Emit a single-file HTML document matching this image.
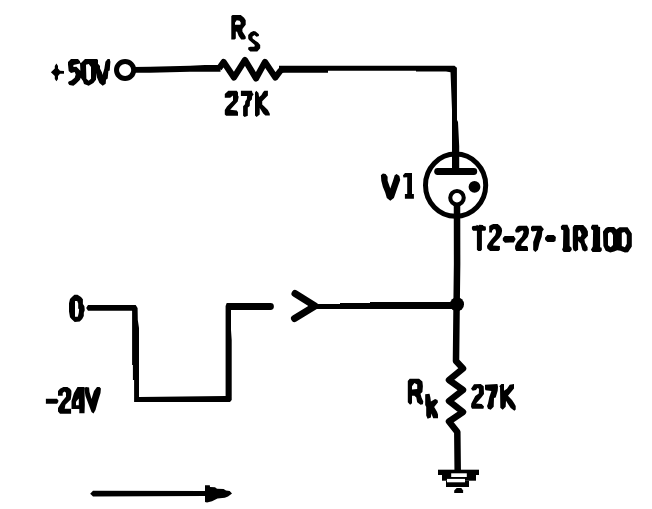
<!DOCTYPE html>
<html><head><meta charset="utf-8"><style>
html,body{margin:0;padding:0;background:#fff;width:652px;height:509px;overflow:hidden;font-family:"Liberation Sans",sans-serif;}
svg{position:absolute;left:0;top:0;display:block;}
</style></head><body>
<svg width="652" height="509" viewBox="0 0 652 509">
<rect width="652" height="509" fill="#fff"/>
<g fill="none" stroke="#000" stroke-linejoin="miter" stroke-linecap="butt">
  <!-- terminal -->
  <circle cx="125.1" cy="70" r="8.6" stroke-width="5"/>
  <!-- wire to Rs, Rs -->
  <path d="M133,66.9 L150,66.8 L190,65.85 L205,64.9 L220.5,64.9 L220.5,71.7 L190,71.7 L150,72.7 L133,72.7 Z" fill="#000" stroke="none"/>
  <path d="M219,68.5 L223.6,62 L234,77.4 L245,60 L256,78.4 L265,62 L275.4,77.4 L281,70" stroke-width="6.2" stroke-linejoin="round"/>
  <!-- top wire, down to plate -->
  <path d="M279,65.85 L454.5,65.85 L456.9,67.8 L457,120 L458,122 L459.2,146 L459.2,171 L452,171 L452,110 L450.5,72.2 L446,71.6 L416,71.6 L416,70.75 L328,70.75 L328,72.7 L285,72.7 L279,73 Z" fill="#000" stroke="none"/>
  <!-- plate bar -->
  <line x1="437.6" y1="171.5" x2="473.8" y2="171.5" stroke-width="6.8" stroke-linecap="round"/>
  <!-- tube envelope -->
  <ellipse cx="455.6" cy="185.15" rx="30.1" ry="31.1" stroke-width="5"/>
  <!-- cathode ring -->
  <circle cx="457" cy="197.7" r="6.75" stroke-width="4.1"/>
  <!-- cathode lead down to Rk -->
  <path d="M457,204.5 L457.1,264 L456.6,305 L456,361 L463,368.5 L449,380 L463,390 L449,401 L463,412 L449,421.5 L457.3,432 L457.7,470" stroke-width="6.5" stroke-linejoin="round"/>
  <!-- input wire -->
  <path d="M313,303.9 L340,303.9 L340,302.9 L370,302.9 L370,302 L457,302 L457,308.9 L313,308.9 Z" fill="#000" stroke="none"/>
  <!-- arrow > -->
  <path d="M295,293.5 L315,306 L294.5,318.5" stroke-width="7" stroke-linecap="round" stroke-linejoin="round"/>
</g>
<g fill="#000">
  <!-- waveform -->
  <path d="M86.2,308 L88,305.1 L135.7,305.1 L137.6,307.9 L137.8,320 L139,328 L139,397 L225.6,396 L225.6,306 L226.7,303.1 L270.5,303.1 A3.4,3.4 0 0 1 270.5,309.9 L231,309.9 L231,330 L231.7,340 L231.7,400 L230,401.9 L134.1,401.9 L134.1,380 L132.9,380 L132.9,365 L132.1,365 L132.1,310.8 L88,310.8 Z"/>
  <circle cx="474.5" cy="186.9" r="5.9"/>
  <circle cx="457" cy="304.3" r="7"/>
  <!-- bottom arrow -->
  <path d="M90.2,493.8 L93,490.7 L205,490.9 L205,496.1 L93,496.5 Z"/>
  <polygon points="205,485.2 209.8,485.2 210,487 215,487.2 217,488.8 223.6,489 226,490.5 229.7,490.9 232,493.6 228,496.4 224.8,497.8 217.5,498.6 212,501.3 207,502.5 205,502"/>
  <!-- ground -->
  <rect x="438" y="469.7" width="41" height="5.3"/>
  <rect x="442" y="475" width="34" height="5.7"/>
  <rect x="446" y="480.7" width="23" height="6.3"/>
  <rect x="451.2" y="473.3" width="15.6" height="3.7" fill="#fff"/>
  <rect x="447" y="478.9" width="18" height="3.4" fill="#fff"/>
  <polygon points="456.7,488 461.3,488 463.1,490.5 463.1,493 454.2,493 454.2,490.5"/>
</g>
<!-- lettering -->
<g fill="none" stroke="#000" stroke-linecap="round" stroke-linejoin="round">
  <!-- +50V -->
  <polygon points="56.4,63.5 58,66 58,68.6 60,70.8 64,70.9 64,73.8 60,73.8 58,76 58,79 56.4,81.3 54.8,79 54.8,76 50.9,72.2 54.8,68.4 54.8,66" fill="#000" stroke="none"/>
  <path fill="#000" stroke="none" fill-rule="evenodd" d="M68,62 L71,59 L78,59 L80,61.3 L80,62.3 L81,63 L85,59 L97,59 L98,60 L98,63.7 L100,66 L100,68.4 L102,72.4 L102.4,75 L103.7,71 L104.4,68.4 L105.4,61.7 L107.7,59 L109.7,59 L110.4,61.7 L109.7,70.4 L108.4,71 L107.7,78.4 L106,79.7 L105.7,83.7 L102.7,85.7 L99.4,83 L97,77.4 L96.4,73 L96,79.7 L93.4,83 L88.7,85.7 L84,84 L83,81 L80.7,77.7 L80,79.7 L76,83.7 L73.4,85.7 L69.3,85 L68,83 L68.7,81.4 L71.3,80.4 L74.7,77.7 L75.7,74.4 L74.7,72 L71,73 L68.7,71 L68,64.4 Z M73.4,65 L80,63.4 L80.4,70.7 L76.4,66.7 L73.4,67 Z M86,64.7 L88.7,64 L91,67 L91,78.7 L88.7,80.7 L86.4,78.7 Z"/>
  <!-- Rs -->
  <g fill="#000" stroke="none" fill-rule="evenodd">
  <path d="M231.3,16.1 L232.5,15.1 L240.8,15.1 L244.1,17.8 L245.7,20.3 L245.7,24.8 L243.7,27.3 L242.4,28.9 L242.4,31.4 L244.5,34.7 L245.7,36.8 L245.7,38.8 L244.1,39.6 L241.2,39.6 L238.7,35.9 L237.1,31.8 L235.8,31.4 L235.8,38.4 L234.6,39.6 L231.3,39.6 Z M235,22.7 L236.7,20.3 L239.6,20.7 L240.8,22.7 L240.4,24.8 L235,24.8 Z"/>
  <path d="M248.2,35.1 L250.7,32.2 L253.6,31 L255.6,31.4 L258.9,34.3 L258.9,35.9 L256.5,36.8 L254.4,35.1 L252.3,36.8 L252.8,38.8 L258.1,42.5 L260.2,45 L260.2,48.3 L257.3,51.6 L250.3,51.6 L248.2,49.5 L248.2,47.5 L250.3,46.7 L254.4,46.7 L254.8,45 L249,40 L248.2,38.4 Z"/>
  </g>
  <!-- 27K under Rs -->
  <g fill="#000" stroke="none">
  <polygon points="224.8,94 228.3,90.8 236.8,90.8 238,92.4 238,95.5 238.7,96.8 237.7,101.5 230.2,109.7 236.8,110.6 238,112.2 238,115.7 226.1,115.7 224.8,114.4 224.8,110 227,106.5 233,100.6 233,95.5 230.2,97.7 224.8,97.7"/>
  <polygon points="240.9,90.8 251.9,90.8 252.5,93 253.7,94.3 252.2,96.2 251.9,99.6 250,101.2 249.7,105.9 247.8,107.5 247.8,115.7 244.6,116.9 243.1,115.7 243.1,106.2 245,104.3 245.3,101.2 246.8,99.3 247.1,95.9 240.9,95.9"/>
  <polygon points="255,92.4 256.3,90.8 258.5,93 259.1,97.1 261.3,95.2 263.2,92.1 264.4,90.8 267.9,90.8 267.9,95.5 265.4,98 262.2,101.2 262.2,104.6 264.1,106.2 267.9,110 269.8,113.8 269.8,115.6 265.4,115.6 263.2,113.4 261,110 259.7,108.1 259.7,114.4 256.6,116.9 255,115.6"/>
  </g>
  <!-- V1 -->
  <g stroke-linecap="square" stroke-linejoin="miter">
  <polygon fill="#000" stroke="none" points="380.9,175.2 382.9,173.6 385.6,174 387.6,176.8 387.6,180.7 390.3,188.6 393,180.7 394.7,175.2 396.6,174 399.4,176 400.2,180 398.2,185.4 395.8,192.5 393.9,198 390.3,200.8 386.8,198 385.2,192.5 382.9,187 381.3,180.7"/>
  <polygon fill="#000" stroke="none" points="402.9,175.5 405,173 412,172.9 412,194 413.9,194 413.9,198.8 404.9,198.8 404.9,194 407.2,194 407.2,177.2 403.5,177.6"/>
  </g>
  <!-- T2-27-1R100 -->
  <path fill="#000" stroke="none" fill-rule="evenodd" d="M471.9,227 L472.8,226.1 L476.3,225.8 L476.9,224.8 L478.2,225.8 L479.4,224.8 L482.9,225.1 L483.5,226.1 L485.7,226.4 L486,229.5 L485.1,230.8 L481.9,230.8 L481.9,249.7 L480.7,250.9 L478.2,250.9 L476.9,249.7 L476.9,230.8 L473.1,230.8 L471.9,229.2 Z M489.2,226.1 L491.4,224.8 L493.3,223.9 L497.7,223.9 L499.9,225.8 L501.7,228.3 L502.1,230.8 L501.4,234.6 L499.5,237.7 L493.9,243.4 L492.9,245.6 L499.9,245.9 L499.9,249.7 L498.6,250.9 L490.1,250.9 L487.3,248.4 L487,245.9 L488.2,243.7 L491.4,239.6 L495.1,235.2 L496.1,232 L495.5,229.5 L493.9,228.9 L492,230.8 L492,232.4 L489.2,232.4 Z M502.8,238 L504.7,236.1 L513.8,236.1 L515.7,239 L513.8,242.4 L505,242.7 L502.8,240.5 Z M515.1,230.2 L517,226.7 L518.9,225.8 L527,225.8 L528.9,228.9 L528.9,233.3 L527.7,237.1 L521.4,244 L521.4,245.9 L527,245.9 L528,247.8 L528,250.9 L516.3,250.9 L515.1,249 L515.1,245.9 L517,242.1 L522,236.5 L523.6,232.1 L522.6,230.2 L520.1,231.4 L518.9,232.4 L515.7,232.4 Z M531,227 L532.3,225.8 L541.1,225.8 L543.9,229.2 L542.3,231.4 L541.7,236.8 L539.5,242.7 L537.9,249.7 L535.4,251.9 L533.2,250 L533.2,242.1 L535.4,235.8 L537,230.8 L532.3,231.4 L531,230.2 Z M544.9,237.7 L547.4,234.9 L553.7,234.9 L555.9,237.1 L555.5,240.9 L553.7,242.1 L547.4,242.1 L545.2,239.9 Z M560.8,226.4 L562.4,224.8 L567.4,224.8 L568.4,227 L569.6,229.5 L569.6,245.9 L571.5,247.8 L571.8,249.7 L570,251.9 L563.7,251.9 L562.1,249.7 L563,247.2 L563.3,230.2 L561.1,229.5 Z M590.9,227 L592.2,224.8 L597.9,224.8 L598.5,226.7 L600.1,227 L600.1,247.2 L601.6,247.8 L601.9,250.3 L600.4,251.9 L592.5,251.9 L590.9,249.7 L592.8,246.5 L593.1,230.2 L591.3,229.2 Z M572.8,227 L574.4,225.1 L583.2,225.1 L586.3,228.3 L587.9,231.4 L587.9,235.8 L584.4,239.6 L585,242.8 L587.6,247.2 L587.6,250.3 L585,251.6 L582.5,250.3 L580.6,243.4 L578.1,240.9 L578.1,249.7 L575.6,251.6 L573.4,250.3 L572.8,247.2 Z M578.1,230.8 L579.7,229.9 L580.6,232.1 L581.6,234.3 L580.6,236.8 L578.1,236.8 Z M603,231.5 L605.7,228 L608,226.9 L614.1,226.9 L616.4,229.6 L619.5,227.3 L627.6,227.3 L631.8,233.4 L631.8,246.5 L629.5,249.9 L628,252.2 L624.9,252.6 L620.3,250.7 L617.2,250.3 L614.1,251.4 L610.3,252.6 L605.7,250.7 L603.4,246.1 Z M608,233.4 L609.9,231.9 L611.8,232.7 L613,235.3 L613,244.9 L610.7,247.2 L608,245.3 Z M621.8,232.7 L624.5,231.9 L626.8,235 L626.8,243.8 L624.9,247.2 L621.8,246.1 Z"/>
  <!-- 0 (waveform) -->
  <path fill="#000" stroke="none" fill-rule="evenodd" d="M69,303.3 L70,298.9 L72.2,296.7 L74.4,294.8 L77.5,294.8 L81,297 L82.9,299.2 L82.9,304 L84.4,306.2 L84.75,310.2 L83.8,312.8 L83.8,315.9 L82.2,319 L79.7,321.6 L74.7,321.9 L71.5,319 L70,317.2 L69,311.5 Z M75,301.1 L77.2,301.1 L78.2,303.6 L78.2,308.4 L79.1,309.3 L78.8,312.8 L77.8,316.8 L75,316.8 Z"/>
  <!-- -24V -->
  <g fill="#000" stroke="none">
  <polygon points="45.9,398.8 57,398.8 58.3,400.5 58.3,402 57,403.7 45.9,403.7"/>
  <polygon points="58,391 60,388.7 63.4,387 67.4,387 70.1,388.7 71.4,390.7 71.4,394.7 70.7,399.4 65.4,404.7 64.7,408.7 71.1,408.7 71.1,413.7 60,413.7 58,411.4 58,408 62,401.4 66,396.7 66,392.7 64.5,391.5 62.7,393 62.7,395.7 58,395.7"/>
  <polygon points="77.5,387 84.5,387 84.8,405 84.5,413.3 79.3,413.3 79.3,409 71.5,409 71.5,401 74,393"/>
  <polygon points="76,401.8 78.8,398.5 78.8,405.3 76,405.3" fill="#fff"/>
  <polygon points="84.2,388 86,386.9 89.1,387.5 89.5,392 91.5,399 94,391 97,387 99.5,386.9 100.9,388.5 100.5,393 98,401 95.5,410 93.5,413.4 91.5,412 88.5,404 85.5,396"/>
  </g>
  <!-- Rk -->
  <g fill="#000" stroke="none" fill-rule="evenodd">
  <path d="M407.8,381.1 L409.7,378.7 L419.1,378.7 L422.4,381.5 L422.9,386.3 L422.4,391.9 L420.5,393.8 L421.5,397.6 L423.3,401.4 L422.9,404.2 L420.5,404.7 L417.2,402.3 L416.3,397.6 L414.4,395.7 L412,395.7 L412,403.2 L410.1,404.7 L407.8,402.3 Z M412,386.3 L414.4,383 L417.2,384.4 L417.2,389.1 L412,389.6 Z"/>
  <path d="M425.2,394.3 L429.5,393.8 L430.4,397.6 L430.9,401.4 L435.1,399 L437.5,399.9 L438,402.3 L434.2,407 L437,411.7 L438,414.6 L438,418.3 L433.2,418.3 L431.4,413.6 L430.9,417.4 L427.6,418.8 L426.2,415.5 L426.2,407 L425.2,405.1 Z"/>
  </g>
  <!-- 27K beside Rk -->
  <g fill="#000" stroke="none">
  <polygon points="471,388.7 474,384.3 480.7,384 483.7,386.3 484,394 481.4,397.4 476,403.4 481.7,404 484,406.4 483.4,408.7 472,408.7 471,406.7 471.3,403.4 475.3,396 478.8,393.4 479,388.7 477.4,388 476,390 472.7,390.7"/>
  <polygon points="485,384.7 497.4,384 498,386.7 497.7,390.7 495.7,397.4 494,398 493.7,406.7 490.7,409.7 488,408.7 487,406 488,403.4 489.4,396.7 491.4,391 485.5,390.2 485,389"/>
  <polygon points="499,386.4 501.4,384 504,384 504,390.7 507,388.7 509.7,384.7 514,384 514,388.4 508,395.7 512,400 514,403 515.7,406 515.7,409.4 514.4,410.7 510.7,408 508,404 506,400.7 505.7,406.7 502.7,409.7 500.3,407.7 500,386.7"/>
  </g>
</g>
</svg>
</body></html>
